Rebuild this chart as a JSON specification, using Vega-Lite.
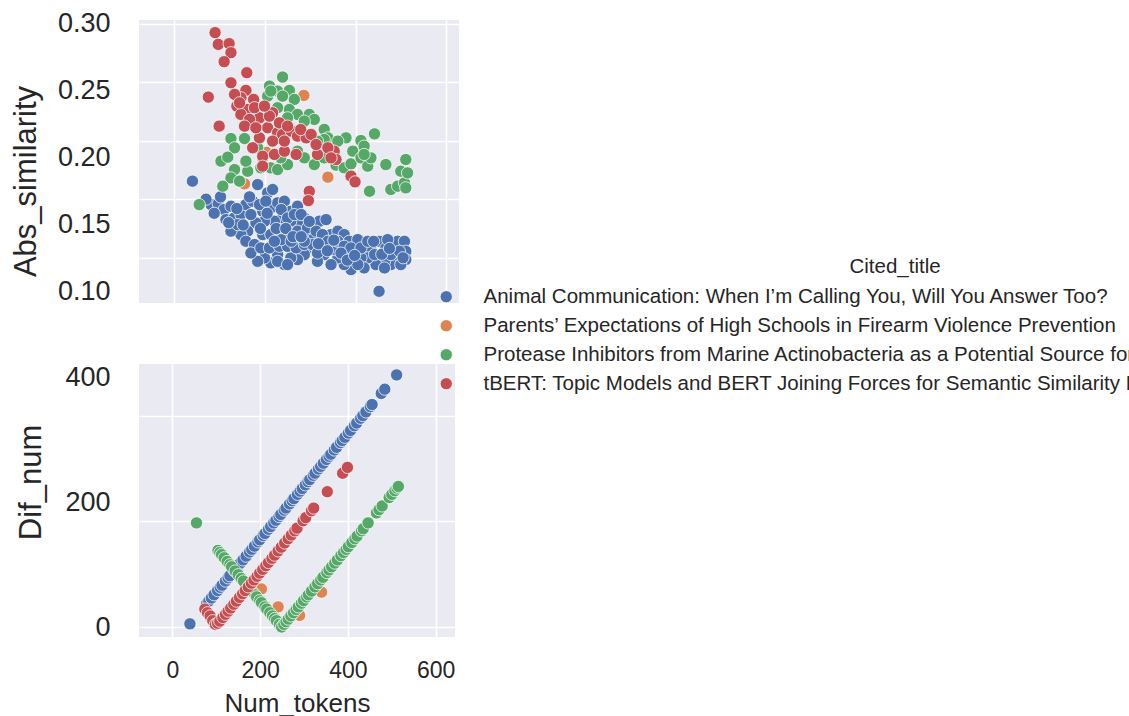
{
  "$schema": "https://vega.github.io/schema/vega-lite/v6.json",
  "padding": {"left": 10, "top": 9, "right": 0, "bottom": 0},
  "spacing": 58,
  "config": {
    "font": "Liberation Sans",
    "view": {"fill": "#EAEAF2", "stroke": null},
    "axis": {"domain": false, "ticks": false, "tickSize": 0, "gridColor": "#FFFFFF", "gridWidth": 1.6, "gridOpacity": 1, "labelColor": "#262626", "titleColor": "#262626", "titleFontWeight": "normal"},
    "legend": {"labelColor": "#262626", "titleColor": "#262626"}
  },
  "datasets": {
    "top": [
      {"Cited_title": "Parents’ Expectations of High Schools in Firearm Violence Prevention", "Num_tokens": 155, "Abs_similarity": 0.1631},
      {"Cited_title": "Parents’ Expectations of High Schools in Firearm Violence Prevention", "Num_tokens": 203, "Abs_similarity": 0.1900},
      {"Cited_title": "Parents’ Expectations of High Schools in Firearm Violence Prevention", "Num_tokens": 241, "Abs_similarity": 0.2050},
      {"Cited_title": "Parents’ Expectations of High Schools in Firearm Violence Prevention", "Num_tokens": 286, "Abs_similarity": 0.2386},
      {"Cited_title": "Parents’ Expectations of High Schools in Firearm Violence Prevention", "Num_tokens": 339, "Abs_similarity": 0.1688},
      {"Cited_title": "Animal Communication: When I’m Calling You, Will You Answer Too?", "Num_tokens": 40, "Abs_similarity": 0.1654},
      {"Cited_title": "Animal Communication: When I’m Calling You, Will You Answer Too?", "Num_tokens": 81, "Abs_similarity": 0.1454},
      {"Cited_title": "Animal Communication: When I’m Calling You, Will You Answer Too?", "Num_tokens": 97, "Abs_similarity": 0.1460},
      {"Cited_title": "Animal Communication: When I’m Calling You, Will You Answer Too?", "Num_tokens": 110, "Abs_similarity": 0.1412},
      {"Cited_title": "Animal Communication: When I’m Calling You, Will You Answer Too?", "Num_tokens": 125, "Abs_similarity": 0.1440},
      {"Cited_title": "Animal Communication: When I’m Calling You, Will You Answer Too?", "Num_tokens": 114, "Abs_similarity": 0.1326},
      {"Cited_title": "Animal Communication: When I’m Calling You, Will You Answer Too?", "Num_tokens": 132, "Abs_similarity": 0.1340},
      {"Cited_title": "Animal Communication: When I’m Calling You, Will You Answer Too?", "Num_tokens": 147, "Abs_similarity": 0.1369},
      {"Cited_title": "Animal Communication: When I’m Calling You, Will You Answer Too?", "Num_tokens": 158, "Abs_similarity": 0.1454},
      {"Cited_title": "Animal Communication: When I’m Calling You, Will You Answer Too?", "Num_tokens": 173, "Abs_similarity": 0.1483},
      {"Cited_title": "Animal Communication: When I’m Calling You, Will You Answer Too?", "Num_tokens": 184, "Abs_similarity": 0.1625},
      {"Cited_title": "Animal Communication: When I’m Calling You, Will You Answer Too?", "Num_tokens": 206, "Abs_similarity": 0.1554},
      {"Cited_title": "Animal Communication: When I’m Calling You, Will You Answer Too?", "Num_tokens": 217, "Abs_similarity": 0.1583},
      {"Cited_title": "Animal Communication: When I’m Calling You, Will You Answer Too?", "Num_tokens": 213, "Abs_similarity": 0.1426},
      {"Cited_title": "Animal Communication: When I’m Calling You, Will You Answer Too?", "Num_tokens": 195, "Abs_similarity": 0.1397},
      {"Cited_title": "Animal Communication: When I’m Calling You, Will You Answer Too?", "Num_tokens": 228, "Abs_similarity": 0.1469},
      {"Cited_title": "Animal Communication: When I’m Calling You, Will You Answer Too?", "Num_tokens": 243, "Abs_similarity": 0.1483},
      {"Cited_title": "Animal Communication: When I’m Calling You, Will You Answer Too?", "Num_tokens": 257, "Abs_similarity": 0.1397},
      {"Cited_title": "Animal Communication: When I’m Calling You, Will You Answer Too?", "Num_tokens": 272, "Abs_similarity": 0.1440},
      {"Cited_title": "Animal Communication: When I’m Calling You, Will You Answer Too?", "Num_tokens": 287, "Abs_similarity": 0.1340},
      {"Cited_title": "Animal Communication: When I’m Calling You, Will You Answer Too?", "Num_tokens": 276, "Abs_similarity": 0.1283},
      {"Cited_title": "Animal Communication: When I’m Calling You, Will You Answer Too?", "Num_tokens": 257, "Abs_similarity": 0.1312},
      {"Cited_title": "Animal Communication: When I’m Calling You, Will You Answer Too?", "Num_tokens": 239, "Abs_similarity": 0.1340},
      {"Cited_title": "Animal Communication: When I’m Calling You, Will You Answer Too?", "Num_tokens": 221, "Abs_similarity": 0.1312},
      {"Cited_title": "Animal Communication: When I’m Calling You, Will You Answer Too?", "Num_tokens": 199, "Abs_similarity": 0.1312},
      {"Cited_title": "Animal Communication: When I’m Calling You, Will You Answer Too?", "Num_tokens": 180, "Abs_similarity": 0.1298},
      {"Cited_title": "Animal Communication: When I’m Calling You, Will You Answer Too?", "Num_tokens": 162, "Abs_similarity": 0.1227},
      {"Cited_title": "Animal Communication: When I’m Calling You, Will You Answer Too?", "Num_tokens": 147, "Abs_similarity": 0.1198},
      {"Cited_title": "Animal Communication: When I’m Calling You, Will You Answer Too?", "Num_tokens": 158, "Abs_similarity": 0.1141},
      {"Cited_title": "Animal Communication: When I’m Calling You, Will You Answer Too?", "Num_tokens": 177, "Abs_similarity": 0.1113},
      {"Cited_title": "Animal Communication: When I’m Calling You, Will You Answer Too?", "Num_tokens": 195, "Abs_similarity": 0.1198},
      {"Cited_title": "Animal Communication: When I’m Calling You, Will You Answer Too?", "Num_tokens": 213, "Abs_similarity": 0.1198},
      {"Cited_title": "Animal Communication: When I’m Calling You, Will You Answer Too?", "Num_tokens": 232, "Abs_similarity": 0.1227},
      {"Cited_title": "Animal Communication: When I’m Calling You, Will You Answer Too?", "Num_tokens": 250, "Abs_similarity": 0.1198},
      {"Cited_title": "Animal Communication: When I’m Calling You, Will You Answer Too?", "Num_tokens": 272, "Abs_similarity": 0.1227},
      {"Cited_title": "Animal Communication: When I’m Calling You, Will You Answer Too?", "Num_tokens": 291, "Abs_similarity": 0.1198},
      {"Cited_title": "Animal Communication: When I’m Calling You, Will You Answer Too?", "Num_tokens": 309, "Abs_similarity": 0.1170},
      {"Cited_title": "Animal Communication: When I’m Calling You, Will You Answer Too?", "Num_tokens": 302, "Abs_similarity": 0.1255},
      {"Cited_title": "Animal Communication: When I’m Calling You, Will You Answer Too?", "Num_tokens": 320, "Abs_similarity": 0.1312},
      {"Cited_title": "Animal Communication: When I’m Calling You, Will You Answer Too?", "Num_tokens": 335, "Abs_similarity": 0.1326},
      {"Cited_title": "Animal Communication: When I’m Calling You, Will You Answer Too?", "Num_tokens": 346, "Abs_similarity": 0.1198},
      {"Cited_title": "Animal Communication: When I’m Calling You, Will You Answer Too?", "Num_tokens": 361, "Abs_similarity": 0.1227},
      {"Cited_title": "Animal Communication: When I’m Calling You, Will You Answer Too?", "Num_tokens": 375, "Abs_similarity": 0.1198},
      {"Cited_title": "Animal Communication: When I’m Calling You, Will You Answer Too?", "Num_tokens": 386, "Abs_similarity": 0.1141},
      {"Cited_title": "Animal Communication: When I’m Calling You, Will You Answer Too?", "Num_tokens": 405, "Abs_similarity": 0.1155},
      {"Cited_title": "Animal Communication: When I’m Calling You, Will You Answer Too?", "Num_tokens": 419, "Abs_similarity": 0.1084},
      {"Cited_title": "Animal Communication: When I’m Calling You, Will You Answer Too?", "Num_tokens": 434, "Abs_similarity": 0.1070},
      {"Cited_title": "Animal Communication: When I’m Calling You, Will You Answer Too?", "Num_tokens": 452, "Abs_similarity": 0.1141},
      {"Cited_title": "Animal Communication: When I’m Calling You, Will You Answer Too?", "Num_tokens": 467, "Abs_similarity": 0.1084},
      {"Cited_title": "Animal Communication: When I’m Calling You, Will You Answer Too?", "Num_tokens": 486, "Abs_similarity": 0.1084},
      {"Cited_title": "Animal Communication: When I’m Calling You, Will You Answer Too?", "Num_tokens": 493, "Abs_similarity": 0.1141},
      {"Cited_title": "Animal Communication: When I’m Calling You, Will You Answer Too?", "Num_tokens": 508, "Abs_similarity": 0.1141},
      {"Cited_title": "Animal Communication: When I’m Calling You, Will You Answer Too?", "Num_tokens": 511, "Abs_similarity": 0.1056},
      {"Cited_title": "Animal Communication: When I’m Calling You, Will You Answer Too?", "Num_tokens": 511, "Abs_similarity": 0.0984},
      {"Cited_title": "Animal Communication: When I’m Calling You, Will You Answer Too?", "Num_tokens": 493, "Abs_similarity": 0.0999},
      {"Cited_title": "Animal Communication: When I’m Calling You, Will You Answer Too?", "Num_tokens": 478, "Abs_similarity": 0.0942},
      {"Cited_title": "Animal Communication: When I’m Calling You, Will You Answer Too?", "Num_tokens": 464, "Abs_similarity": 0.0970},
      {"Cited_title": "Animal Communication: When I’m Calling You, Will You Answer Too?", "Num_tokens": 445, "Abs_similarity": 0.0942},
      {"Cited_title": "Animal Communication: When I’m Calling You, Will You Answer Too?", "Num_tokens": 427, "Abs_similarity": 0.0999},
      {"Cited_title": "Animal Communication: When I’m Calling You, Will You Answer Too?", "Num_tokens": 412, "Abs_similarity": 0.0999},
      {"Cited_title": "Animal Communication: When I’m Calling You, Will You Answer Too?", "Num_tokens": 390, "Abs_similarity": 0.0899},
      {"Cited_title": "Animal Communication: When I’m Calling You, Will You Answer Too?", "Num_tokens": 375, "Abs_similarity": 0.0942},
      {"Cited_title": "Animal Communication: When I’m Calling You, Will You Answer Too?", "Num_tokens": 361, "Abs_similarity": 0.0999},
      {"Cited_title": "Animal Communication: When I’m Calling You, Will You Answer Too?", "Num_tokens": 346, "Abs_similarity": 0.1098},
      {"Cited_title": "Animal Communication: When I’m Calling You, Will You Answer Too?", "Num_tokens": 331, "Abs_similarity": 0.1027},
      {"Cited_title": "Animal Communication: When I’m Calling You, Will You Answer Too?", "Num_tokens": 316, "Abs_similarity": 0.0970},
      {"Cited_title": "Animal Communication: When I’m Calling You, Will You Answer Too?", "Num_tokens": 302, "Abs_similarity": 0.1084},
      {"Cited_title": "Animal Communication: When I’m Calling You, Will You Answer Too?", "Num_tokens": 287, "Abs_similarity": 0.1027},
      {"Cited_title": "Animal Communication: When I’m Calling You, Will You Answer Too?", "Num_tokens": 272, "Abs_similarity": 0.0984},
      {"Cited_title": "Animal Communication: When I’m Calling You, Will You Answer Too?", "Num_tokens": 257, "Abs_similarity": 0.0999},
      {"Cited_title": "Animal Communication: When I’m Calling You, Will You Answer Too?", "Num_tokens": 243, "Abs_similarity": 0.0942},
      {"Cited_title": "Animal Communication: When I’m Calling You, Will You Answer Too?", "Num_tokens": 228, "Abs_similarity": 0.1027},
      {"Cited_title": "Animal Communication: When I’m Calling You, Will You Answer Too?", "Num_tokens": 213, "Abs_similarity": 0.0956},
      {"Cited_title": "Animal Communication: When I’m Calling You, Will You Answer Too?", "Num_tokens": 199, "Abs_similarity": 0.0999},
      {"Cited_title": "Animal Communication: When I’m Calling You, Will You Answer Too?", "Num_tokens": 184, "Abs_similarity": 0.0970},
      {"Cited_title": "Animal Communication: When I’m Calling You, Will You Answer Too?", "Num_tokens": 169, "Abs_similarity": 0.1041},
      {"Cited_title": "Animal Communication: When I’m Calling You, Will You Answer Too?", "Num_tokens": 191, "Abs_similarity": 0.1084},
      {"Cited_title": "Animal Communication: When I’m Calling You, Will You Answer Too?", "Num_tokens": 210, "Abs_similarity": 0.1084},
      {"Cited_title": "Animal Communication: When I’m Calling You, Will You Answer Too?", "Num_tokens": 232, "Abs_similarity": 0.1098},
      {"Cited_title": "Animal Communication: When I’m Calling You, Will You Answer Too?", "Num_tokens": 250, "Abs_similarity": 0.1098},
      {"Cited_title": "Animal Communication: When I’m Calling You, Will You Answer Too?", "Num_tokens": 269, "Abs_similarity": 0.1084},
      {"Cited_title": "Animal Communication: When I’m Calling You, Will You Answer Too?", "Num_tokens": 287, "Abs_similarity": 0.1113},
      {"Cited_title": "Animal Communication: When I’m Calling You, Will You Answer Too?", "Num_tokens": 305, "Abs_similarity": 0.1113},
      {"Cited_title": "Animal Communication: When I’m Calling You, Will You Answer Too?", "Num_tokens": 327, "Abs_similarity": 0.1113},
      {"Cited_title": "Animal Communication: When I’m Calling You, Will You Answer Too?", "Num_tokens": 353, "Abs_similarity": 0.1070},
      {"Cited_title": "Animal Communication: When I’m Calling You, Will You Answer Too?", "Num_tokens": 390, "Abs_similarity": 0.1027},
      {"Cited_title": "Animal Communication: When I’m Calling You, Will You Answer Too?", "Num_tokens": 419, "Abs_similarity": 0.0913},
      {"Cited_title": "Animal Communication: When I’m Calling You, Will You Answer Too?", "Num_tokens": 452, "Abs_similarity": 0.0714},
      {"Cited_title": "Animal Communication: When I’m Calling You, Will You Answer Too?", "Num_tokens": 464, "Abs_similarity": 0.0913},
      {"Cited_title": "Animal Communication: When I’m Calling You, Will You Answer Too?", "Num_tokens": 500, "Abs_similarity": 0.0942},
      {"Cited_title": "Animal Communication: When I’m Calling You, Will You Answer Too?", "Num_tokens": 125, "Abs_similarity": 0.1227},
      {"Cited_title": "Animal Communication: When I’m Calling You, Will You Answer Too?", "Num_tokens": 140, "Abs_similarity": 0.1283},
      {"Cited_title": "Animal Communication: When I’m Calling You, Will You Answer Too?", "Num_tokens": 169, "Abs_similarity": 0.1369},
      {"Cited_title": "Animal Communication: When I’m Calling You, Will You Answer Too?", "Num_tokens": 188, "Abs_similarity": 0.1454},
      {"Cited_title": "Animal Communication: When I’m Calling You, Will You Answer Too?", "Num_tokens": 202, "Abs_similarity": 0.1483},
      {"Cited_title": "Animal Communication: When I’m Calling You, Will You Answer Too?", "Num_tokens": 236, "Abs_similarity": 0.1412},
      {"Cited_title": "Animal Communication: When I’m Calling You, Will You Answer Too?", "Num_tokens": 250, "Abs_similarity": 0.1340},
      {"Cited_title": "Animal Communication: When I’m Calling You, Will You Answer Too?", "Num_tokens": 265, "Abs_similarity": 0.1369},
      {"Cited_title": "Animal Communication: When I’m Calling You, Will You Answer Too?", "Num_tokens": 280, "Abs_similarity": 0.1369},
      {"Cited_title": "Animal Communication: When I’m Calling You, Will You Answer Too?", "Num_tokens": 294, "Abs_similarity": 0.1255},
      {"Cited_title": "Animal Communication: When I’m Calling You, Will You Answer Too?", "Num_tokens": 313, "Abs_similarity": 0.1227},
      {"Cited_title": "Animal Communication: When I’m Calling You, Will You Answer Too?", "Num_tokens": 327, "Abs_similarity": 0.1198},
      {"Cited_title": "Animal Communication: When I’m Calling You, Will You Answer Too?", "Num_tokens": 339, "Abs_similarity": 0.1141},
      {"Cited_title": "Animal Communication: When I’m Calling You, Will You Answer Too?", "Num_tokens": 361, "Abs_similarity": 0.1141},
      {"Cited_title": "Animal Communication: When I’m Calling You, Will You Answer Too?", "Num_tokens": 375, "Abs_similarity": 0.1098},
      {"Cited_title": "Animal Communication: When I’m Calling You, Will You Answer Too?", "Num_tokens": 390, "Abs_similarity": 0.1084},
      {"Cited_title": "Animal Communication: When I’m Calling You, Will You Answer Too?", "Num_tokens": 412, "Abs_similarity": 0.1084},
      {"Cited_title": "Animal Communication: When I’m Calling You, Will You Answer Too?", "Num_tokens": 427, "Abs_similarity": 0.1141},
      {"Cited_title": "Animal Communication: When I’m Calling You, Will You Answer Too?", "Num_tokens": 442, "Abs_similarity": 0.1027},
      {"Cited_title": "Animal Communication: When I’m Calling You, Will You Answer Too?", "Num_tokens": 478, "Abs_similarity": 0.1027},
      {"Cited_title": "Animal Communication: When I’m Calling You, Will You Answer Too?", "Num_tokens": 497, "Abs_similarity": 0.1056},
      {"Cited_title": "Animal Communication: When I’m Calling You, Will You Answer Too?", "Num_tokens": 471, "Abs_similarity": 0.1155},
      {"Cited_title": "Animal Communication: When I’m Calling You, Will You Answer Too?", "Num_tokens": 236, "Abs_similarity": 0.1155},
      {"Cited_title": "Animal Communication: When I’m Calling You, Will You Answer Too?", "Num_tokens": 221, "Abs_similarity": 0.1141},
      {"Cited_title": "Animal Communication: When I’m Calling You, Will You Answer Too?", "Num_tokens": 258, "Abs_similarity": 0.1141},
      {"Cited_title": "Animal Communication: When I’m Calling You, Will You Answer Too?", "Num_tokens": 287, "Abs_similarity": 0.1141},
      {"Cited_title": "Animal Communication: When I’m Calling You, Will You Answer Too?", "Num_tokens": 316, "Abs_similarity": 0.1041},
      {"Cited_title": "Animal Communication: When I’m Calling You, Will You Answer Too?", "Num_tokens": 346, "Abs_similarity": 0.0942},
      {"Cited_title": "Animal Communication: When I’m Calling You, Will You Answer Too?", "Num_tokens": 405, "Abs_similarity": 0.0942},
      {"Cited_title": "Animal Communication: When I’m Calling You, Will You Answer Too?", "Num_tokens": 228, "Abs_similarity": 0.0970},
      {"Cited_title": "Animal Communication: When I’m Calling You, Will You Answer Too?", "Num_tokens": 250, "Abs_similarity": 0.0942},
      {"Cited_title": "Animal Communication: When I’m Calling You, Will You Answer Too?", "Num_tokens": 70, "Abs_similarity": 0.1500},
      {"Cited_title": "Animal Communication: When I’m Calling You, Will You Answer Too?", "Num_tokens": 88, "Abs_similarity": 0.1380},
      {"Cited_title": "Animal Communication: When I’m Calling You, Will You Answer Too?", "Num_tokens": 102, "Abs_similarity": 0.1520},
      {"Cited_title": "Animal Communication: When I’m Calling You, Will You Answer Too?", "Num_tokens": 120, "Abs_similarity": 0.1300},
      {"Cited_title": "Animal Communication: When I’m Calling You, Will You Answer Too?", "Num_tokens": 138, "Abs_similarity": 0.1420},
      {"Cited_title": "Animal Communication: When I’m Calling You, Will You Answer Too?", "Num_tokens": 152, "Abs_similarity": 0.1280},
      {"Cited_title": "Animal Communication: When I’m Calling You, Will You Answer Too?", "Num_tokens": 166, "Abs_similarity": 0.1520},
      {"Cited_title": "Animal Communication: When I’m Calling You, Will You Answer Too?", "Num_tokens": 190, "Abs_similarity": 0.1250},
      {"Cited_title": "Animal Communication: When I’m Calling You, Will You Answer Too?", "Num_tokens": 205, "Abs_similarity": 0.1380},
      {"Cited_title": "Animal Communication: When I’m Calling You, Will You Answer Too?", "Num_tokens": 225, "Abs_similarity": 0.1250},
      {"Cited_title": "Animal Communication: When I’m Calling You, Will You Answer Too?", "Num_tokens": 246, "Abs_similarity": 0.1250},
      {"Cited_title": "Animal Communication: When I’m Calling You, Will You Answer Too?", "Num_tokens": 262, "Abs_similarity": 0.1180},
      {"Cited_title": "Animal Communication: When I’m Calling You, Will You Answer Too?", "Num_tokens": 280, "Abs_similarity": 0.1180},
      {"Cited_title": "Animal Communication: When I’m Calling You, Will You Answer Too?", "Num_tokens": 298, "Abs_similarity": 0.1310},
      {"Cited_title": "Animal Communication: When I’m Calling You, Will You Answer Too?", "Num_tokens": 318, "Abs_similarity": 0.1120},
      {"Cited_title": "Animal Communication: When I’m Calling You, Will You Answer Too?", "Num_tokens": 338, "Abs_similarity": 0.1060},
      {"Cited_title": "Animal Communication: When I’m Calling You, Will You Answer Too?", "Num_tokens": 352, "Abs_similarity": 0.1150},
      {"Cited_title": "Animal Communication: When I’m Calling You, Will You Answer Too?", "Num_tokens": 368, "Abs_similarity": 0.1040},
      {"Cited_title": "Animal Communication: When I’m Calling You, Will You Answer Too?", "Num_tokens": 382, "Abs_similarity": 0.0980},
      {"Cited_title": "Animal Communication: When I’m Calling You, Will You Answer Too?", "Num_tokens": 398, "Abs_similarity": 0.1020},
      {"Cited_title": "Animal Communication: When I’m Calling You, Will You Answer Too?", "Num_tokens": 440, "Abs_similarity": 0.1140},
      {"Cited_title": "Animal Communication: When I’m Calling You, Will You Answer Too?", "Num_tokens": 458, "Abs_similarity": 0.1030},
      {"Cited_title": "Animal Communication: When I’m Calling You, Will You Answer Too?", "Num_tokens": 475, "Abs_similarity": 0.1080},
      {"Cited_title": "Animal Communication: When I’m Calling You, Will You Answer Too?", "Num_tokens": 505, "Abs_similarity": 0.1000},
      {"Cited_title": "Protease Inhibitors from Marine Actinobacteria as a Potential Source for Antimalarial Compound", "Num_tokens": 239, "Abs_similarity": 0.2543},
      {"Cited_title": "Protease Inhibitors from Marine Actinobacteria as a Potential Source for Antimalarial Compound", "Num_tokens": 210, "Abs_similarity": 0.2466},
      {"Cited_title": "Protease Inhibitors from Marine Actinobacteria as a Potential Source for Antimalarial Compound", "Num_tokens": 228, "Abs_similarity": 0.2423},
      {"Cited_title": "Protease Inhibitors from Marine Actinobacteria as a Potential Source for Antimalarial Compound", "Num_tokens": 254, "Abs_similarity": 0.2429},
      {"Cited_title": "Protease Inhibitors from Marine Actinobacteria as a Potential Source for Antimalarial Compound", "Num_tokens": 206, "Abs_similarity": 0.2380},
      {"Cited_title": "Protease Inhibitors from Marine Actinobacteria as a Potential Source for Antimalarial Compound", "Num_tokens": 239, "Abs_similarity": 0.2380},
      {"Cited_title": "Protease Inhibitors from Marine Actinobacteria as a Potential Source for Antimalarial Compound", "Num_tokens": 265, "Abs_similarity": 0.2352},
      {"Cited_title": "Protease Inhibitors from Marine Actinobacteria as a Potential Source for Antimalarial Compound", "Num_tokens": 254, "Abs_similarity": 0.2266},
      {"Cited_title": "Protease Inhibitors from Marine Actinobacteria as a Potential Source for Antimalarial Compound", "Num_tokens": 228, "Abs_similarity": 0.2281},
      {"Cited_title": "Protease Inhibitors from Marine Actinobacteria as a Potential Source for Antimalarial Compound", "Num_tokens": 272, "Abs_similarity": 0.2224},
      {"Cited_title": "Protease Inhibitors from Marine Actinobacteria as a Potential Source for Antimalarial Compound", "Num_tokens": 298, "Abs_similarity": 0.2224},
      {"Cited_title": "Protease Inhibitors from Marine Actinobacteria as a Potential Source for Antimalarial Compound", "Num_tokens": 309, "Abs_similarity": 0.2181},
      {"Cited_title": "Protease Inhibitors from Marine Actinobacteria as a Potential Source for Antimalarial Compound", "Num_tokens": 331, "Abs_similarity": 0.2096},
      {"Cited_title": "Protease Inhibitors from Marine Actinobacteria as a Potential Source for Antimalarial Compound", "Num_tokens": 339, "Abs_similarity": 0.2024},
      {"Cited_title": "Protease Inhibitors from Marine Actinobacteria as a Potential Source for Antimalarial Compound", "Num_tokens": 379, "Abs_similarity": 0.2024},
      {"Cited_title": "Protease Inhibitors from Marine Actinobacteria as a Potential Source for Antimalarial Compound", "Num_tokens": 412, "Abs_similarity": 0.2001},
      {"Cited_title": "Protease Inhibitors from Marine Actinobacteria as a Potential Source for Antimalarial Compound", "Num_tokens": 442, "Abs_similarity": 0.2058},
      {"Cited_title": "Protease Inhibitors from Marine Actinobacteria as a Potential Source for Antimalarial Compound", "Num_tokens": 419, "Abs_similarity": 0.1953},
      {"Cited_title": "Protease Inhibitors from Marine Actinobacteria as a Potential Source for Antimalarial Compound", "Num_tokens": 394, "Abs_similarity": 0.1910},
      {"Cited_title": "Protease Inhibitors from Marine Actinobacteria as a Potential Source for Antimalarial Compound", "Num_tokens": 103, "Abs_similarity": 0.1825},
      {"Cited_title": "Protease Inhibitors from Marine Actinobacteria as a Potential Source for Antimalarial Compound", "Num_tokens": 125, "Abs_similarity": 0.2018},
      {"Cited_title": "Protease Inhibitors from Marine Actinobacteria as a Potential Source for Antimalarial Compound", "Num_tokens": 155, "Abs_similarity": 0.2018},
      {"Cited_title": "Protease Inhibitors from Marine Actinobacteria as a Potential Source for Antimalarial Compound", "Num_tokens": 133, "Abs_similarity": 0.1939},
      {"Cited_title": "Protease Inhibitors from Marine Actinobacteria as a Potential Source for Antimalarial Compound", "Num_tokens": 118, "Abs_similarity": 0.1859},
      {"Cited_title": "Protease Inhibitors from Marine Actinobacteria as a Potential Source for Antimalarial Compound", "Num_tokens": 133, "Abs_similarity": 0.1753},
      {"Cited_title": "Protease Inhibitors from Marine Actinobacteria as a Potential Source for Antimalarial Compound", "Num_tokens": 125, "Abs_similarity": 0.1682},
      {"Cited_title": "Protease Inhibitors from Marine Actinobacteria as a Potential Source for Antimalarial Compound", "Num_tokens": 107, "Abs_similarity": 0.1611},
      {"Cited_title": "Protease Inhibitors from Marine Actinobacteria as a Potential Source for Antimalarial Compound", "Num_tokens": 144, "Abs_similarity": 0.1654},
      {"Cited_title": "Protease Inhibitors from Marine Actinobacteria as a Potential Source for Antimalarial Compound", "Num_tokens": 162, "Abs_similarity": 0.1739},
      {"Cited_title": "Protease Inhibitors from Marine Actinobacteria as a Potential Source for Antimalarial Compound", "Num_tokens": 158, "Abs_similarity": 0.1825},
      {"Cited_title": "Protease Inhibitors from Marine Actinobacteria as a Potential Source for Antimalarial Compound", "Num_tokens": 195, "Abs_similarity": 0.1853},
      {"Cited_title": "Protease Inhibitors from Marine Actinobacteria as a Potential Source for Antimalarial Compound", "Num_tokens": 213, "Abs_similarity": 0.1768},
      {"Cited_title": "Protease Inhibitors from Marine Actinobacteria as a Potential Source for Antimalarial Compound", "Num_tokens": 228, "Abs_similarity": 0.1753},
      {"Cited_title": "Protease Inhibitors from Marine Actinobacteria as a Potential Source for Antimalarial Compound", "Num_tokens": 250, "Abs_similarity": 0.1796},
      {"Cited_title": "Protease Inhibitors from Marine Actinobacteria as a Potential Source for Antimalarial Compound", "Num_tokens": 272, "Abs_similarity": 0.1910},
      {"Cited_title": "Protease Inhibitors from Marine Actinobacteria as a Potential Source for Antimalarial Compound", "Num_tokens": 287, "Abs_similarity": 0.1853},
      {"Cited_title": "Protease Inhibitors from Marine Actinobacteria as a Potential Source for Antimalarial Compound", "Num_tokens": 309, "Abs_similarity": 0.1796},
      {"Cited_title": "Protease Inhibitors from Marine Actinobacteria as a Potential Source for Antimalarial Compound", "Num_tokens": 331, "Abs_similarity": 0.1853},
      {"Cited_title": "Protease Inhibitors from Marine Actinobacteria as a Potential Source for Antimalarial Compound", "Num_tokens": 357, "Abs_similarity": 0.1791},
      {"Cited_title": "Protease Inhibitors from Marine Actinobacteria as a Potential Source for Antimalarial Compound", "Num_tokens": 375, "Abs_similarity": 0.1768},
      {"Cited_title": "Protease Inhibitors from Marine Actinobacteria as a Potential Source for Antimalarial Compound", "Num_tokens": 390, "Abs_similarity": 0.1802},
      {"Cited_title": "Protease Inhibitors from Marine Actinobacteria as a Potential Source for Antimalarial Compound", "Num_tokens": 412, "Abs_similarity": 0.1853},
      {"Cited_title": "Protease Inhibitors from Marine Actinobacteria as a Potential Source for Antimalarial Compound", "Num_tokens": 427, "Abs_similarity": 0.1782},
      {"Cited_title": "Protease Inhibitors from Marine Actinobacteria as a Potential Source for Antimalarial Compound", "Num_tokens": 434, "Abs_similarity": 0.1853},
      {"Cited_title": "Protease Inhibitors from Marine Actinobacteria as a Potential Source for Antimalarial Compound", "Num_tokens": 431, "Abs_similarity": 0.1568},
      {"Cited_title": "Protease Inhibitors from Marine Actinobacteria as a Potential Source for Antimalarial Compound", "Num_tokens": 467, "Abs_similarity": 0.1796},
      {"Cited_title": "Protease Inhibitors from Marine Actinobacteria as a Potential Source for Antimalarial Compound", "Num_tokens": 478, "Abs_similarity": 0.1583},
      {"Cited_title": "Protease Inhibitors from Marine Actinobacteria as a Potential Source for Antimalarial Compound", "Num_tokens": 493, "Abs_similarity": 0.1611},
      {"Cited_title": "Protease Inhibitors from Marine Actinobacteria as a Potential Source for Antimalarial Compound", "Num_tokens": 508, "Abs_similarity": 0.1640},
      {"Cited_title": "Protease Inhibitors from Marine Actinobacteria as a Potential Source for Antimalarial Compound", "Num_tokens": 511, "Abs_similarity": 0.1597},
      {"Cited_title": "Protease Inhibitors from Marine Actinobacteria as a Potential Source for Antimalarial Compound", "Num_tokens": 500, "Abs_similarity": 0.1739},
      {"Cited_title": "Protease Inhibitors from Marine Actinobacteria as a Potential Source for Antimalarial Compound", "Num_tokens": 511, "Abs_similarity": 0.1839},
      {"Cited_title": "Protease Inhibitors from Marine Actinobacteria as a Potential Source for Antimalarial Compound", "Num_tokens": 515, "Abs_similarity": 0.1725},
      {"Cited_title": "Protease Inhibitors from Marine Actinobacteria as a Potential Source for Antimalarial Compound", "Num_tokens": 55, "Abs_similarity": 0.1454},
      {"Cited_title": "Protease Inhibitors from Marine Actinobacteria as a Potential Source for Antimalarial Compound", "Num_tokens": 213, "Abs_similarity": 0.2423},
      {"Cited_title": "Protease Inhibitors from Marine Actinobacteria as a Potential Source for Antimalarial Compound", "Num_tokens": 250, "Abs_similarity": 0.2195},
      {"Cited_title": "Protease Inhibitors from Marine Actinobacteria as a Potential Source for Antimalarial Compound", "Num_tokens": 287, "Abs_similarity": 0.2167},
      {"Cited_title": "Protease Inhibitors from Marine Actinobacteria as a Potential Source for Antimalarial Compound", "Num_tokens": 331, "Abs_similarity": 0.2010},
      {"Cited_title": "Protease Inhibitors from Marine Actinobacteria as a Potential Source for Antimalarial Compound", "Num_tokens": 361, "Abs_similarity": 0.1996},
      {"Cited_title": "Protease Inhibitors from Marine Actinobacteria as a Potential Source for Antimalarial Compound", "Num_tokens": 419, "Abs_similarity": 0.1882},
      {"Cited_title": "Protease Inhibitors from Marine Actinobacteria as a Potential Source for Antimalarial Compound", "Num_tokens": 184, "Abs_similarity": 0.1939},
      {"Cited_title": "Protease Inhibitors from Marine Actinobacteria as a Potential Source for Antimalarial Compound", "Num_tokens": 191, "Abs_similarity": 0.1768},
      {"Cited_title": "Protease Inhibitors from Marine Actinobacteria as a Potential Source for Antimalarial Compound", "Num_tokens": 235, "Abs_similarity": 0.1853},
      {"Cited_title": "Protease Inhibitors from Marine Actinobacteria as a Potential Source for Antimalarial Compound", "Num_tokens": 316, "Abs_similarity": 0.1996},
      {"Cited_title": "tBERT: Topic Models and BERT Joining Forces for Semantic Similarity Detection", "Num_tokens": 90, "Abs_similarity": 0.2922},
      {"Cited_title": "tBERT: Topic Models and BERT Joining Forces for Semantic Similarity Detection", "Num_tokens": 97, "Abs_similarity": 0.2822},
      {"Cited_title": "tBERT: Topic Models and BERT Joining Forces for Semantic Similarity Detection", "Num_tokens": 121, "Abs_similarity": 0.2828},
      {"Cited_title": "tBERT: Topic Models and BERT Joining Forces for Semantic Similarity Detection", "Num_tokens": 125, "Abs_similarity": 0.2751},
      {"Cited_title": "tBERT: Topic Models and BERT Joining Forces for Semantic Similarity Detection", "Num_tokens": 110, "Abs_similarity": 0.2674},
      {"Cited_title": "tBERT: Topic Models and BERT Joining Forces for Semantic Similarity Detection", "Num_tokens": 160, "Abs_similarity": 0.2580},
      {"Cited_title": "tBERT: Topic Models and BERT Joining Forces for Semantic Similarity Detection", "Num_tokens": 125, "Abs_similarity": 0.2494},
      {"Cited_title": "tBERT: Topic Models and BERT Joining Forces for Semantic Similarity Detection", "Num_tokens": 75, "Abs_similarity": 0.2372},
      {"Cited_title": "tBERT: Topic Models and BERT Joining Forces for Semantic Similarity Detection", "Num_tokens": 99, "Abs_similarity": 0.2124},
      {"Cited_title": "tBERT: Topic Models and BERT Joining Forces for Semantic Similarity Detection", "Num_tokens": 158, "Abs_similarity": 0.2429},
      {"Cited_title": "tBERT: Topic Models and BERT Joining Forces for Semantic Similarity Detection", "Num_tokens": 147, "Abs_similarity": 0.2366},
      {"Cited_title": "tBERT: Topic Models and BERT Joining Forces for Semantic Similarity Detection", "Num_tokens": 175, "Abs_similarity": 0.2352},
      {"Cited_title": "tBERT: Topic Models and BERT Joining Forces for Semantic Similarity Detection", "Num_tokens": 138, "Abs_similarity": 0.2295},
      {"Cited_title": "tBERT: Topic Models and BERT Joining Forces for Semantic Similarity Detection", "Num_tokens": 162, "Abs_similarity": 0.2266},
      {"Cited_title": "tBERT: Topic Models and BERT Joining Forces for Semantic Similarity Detection", "Num_tokens": 188, "Abs_similarity": 0.2195},
      {"Cited_title": "tBERT: Topic Models and BERT Joining Forces for Semantic Similarity Detection", "Num_tokens": 217, "Abs_similarity": 0.2238},
      {"Cited_title": "tBERT: Topic Models and BERT Joining Forces for Semantic Similarity Detection", "Num_tokens": 206, "Abs_similarity": 0.2110},
      {"Cited_title": "tBERT: Topic Models and BERT Joining Forces for Semantic Similarity Detection", "Num_tokens": 228, "Abs_similarity": 0.2067},
      {"Cited_title": "tBERT: Topic Models and BERT Joining Forces for Semantic Similarity Detection", "Num_tokens": 239, "Abs_similarity": 0.2053},
      {"Cited_title": "tBERT: Topic Models and BERT Joining Forces for Semantic Similarity Detection", "Num_tokens": 258, "Abs_similarity": 0.2081},
      {"Cited_title": "tBERT: Topic Models and BERT Joining Forces for Semantic Similarity Detection", "Num_tokens": 272, "Abs_similarity": 0.2038},
      {"Cited_title": "tBERT: Topic Models and BERT Joining Forces for Semantic Similarity Detection", "Num_tokens": 291, "Abs_similarity": 0.2024},
      {"Cited_title": "tBERT: Topic Models and BERT Joining Forces for Semantic Similarity Detection", "Num_tokens": 188, "Abs_similarity": 0.2024},
      {"Cited_title": "tBERT: Topic Models and BERT Joining Forces for Semantic Similarity Detection", "Num_tokens": 173, "Abs_similarity": 0.1939},
      {"Cited_title": "tBERT: Topic Models and BERT Joining Forces for Semantic Similarity Detection", "Num_tokens": 195, "Abs_similarity": 0.1867},
      {"Cited_title": "tBERT: Topic Models and BERT Joining Forces for Semantic Similarity Detection", "Num_tokens": 195, "Abs_similarity": 0.1782},
      {"Cited_title": "tBERT: Topic Models and BERT Joining Forces for Semantic Similarity Detection", "Num_tokens": 221, "Abs_similarity": 0.1882},
      {"Cited_title": "tBERT: Topic Models and BERT Joining Forces for Semantic Similarity Detection", "Num_tokens": 243, "Abs_similarity": 0.1910},
      {"Cited_title": "tBERT: Topic Models and BERT Joining Forces for Semantic Similarity Detection", "Num_tokens": 269, "Abs_similarity": 0.1882},
      {"Cited_title": "tBERT: Topic Models and BERT Joining Forces for Semantic Similarity Detection", "Num_tokens": 316, "Abs_similarity": 0.1882},
      {"Cited_title": "tBERT: Topic Models and BERT Joining Forces for Semantic Similarity Detection", "Num_tokens": 353, "Abs_similarity": 0.1910},
      {"Cited_title": "tBERT: Topic Models and BERT Joining Forces for Semantic Similarity Detection", "Num_tokens": 357, "Abs_similarity": 0.1839},
      {"Cited_title": "tBERT: Topic Models and BERT Joining Forces for Semantic Similarity Detection", "Num_tokens": 390, "Abs_similarity": 0.1697},
      {"Cited_title": "tBERT: Topic Models and BERT Joining Forces for Semantic Similarity Detection", "Num_tokens": 399, "Abs_similarity": 0.1648},
      {"Cited_title": "tBERT: Topic Models and BERT Joining Forces for Semantic Similarity Detection", "Num_tokens": 298, "Abs_similarity": 0.1568},
      {"Cited_title": "tBERT: Topic Models and BERT Joining Forces for Semantic Similarity Detection", "Num_tokens": 296, "Abs_similarity": 0.1488},
      {"Cited_title": "tBERT: Topic Models and BERT Joining Forces for Semantic Similarity Detection", "Num_tokens": 147, "Abs_similarity": 0.2224},
      {"Cited_title": "tBERT: Topic Models and BERT Joining Forces for Semantic Similarity Detection", "Num_tokens": 166, "Abs_similarity": 0.2181},
      {"Cited_title": "tBERT: Topic Models and BERT Joining Forces for Semantic Similarity Detection", "Num_tokens": 155, "Abs_similarity": 0.2124},
      {"Cited_title": "tBERT: Topic Models and BERT Joining Forces for Semantic Similarity Detection", "Num_tokens": 180, "Abs_similarity": 0.2110},
      {"Cited_title": "tBERT: Topic Models and BERT Joining Forces for Semantic Similarity Detection", "Num_tokens": 210, "Abs_similarity": 0.2209},
      {"Cited_title": "tBERT: Topic Models and BERT Joining Forces for Semantic Similarity Detection", "Num_tokens": 232, "Abs_similarity": 0.2152},
      {"Cited_title": "tBERT: Topic Models and BERT Joining Forces for Semantic Similarity Detection", "Num_tokens": 250, "Abs_similarity": 0.2124},
      {"Cited_title": "tBERT: Topic Models and BERT Joining Forces for Semantic Similarity Detection", "Num_tokens": 279, "Abs_similarity": 0.2095},
      {"Cited_title": "tBERT: Topic Models and BERT Joining Forces for Semantic Similarity Detection", "Num_tokens": 302, "Abs_similarity": 0.2053},
      {"Cited_title": "tBERT: Topic Models and BERT Joining Forces for Semantic Similarity Detection", "Num_tokens": 313, "Abs_similarity": 0.1967},
      {"Cited_title": "tBERT: Topic Models and BERT Joining Forces for Semantic Similarity Detection", "Num_tokens": 339, "Abs_similarity": 0.1939},
      {"Cited_title": "tBERT: Topic Models and BERT Joining Forces for Semantic Similarity Detection", "Num_tokens": 346, "Abs_similarity": 0.1853},
      {"Cited_title": "tBERT: Topic Models and BERT Joining Forces for Semantic Similarity Detection", "Num_tokens": 217, "Abs_similarity": 0.1996},
      {"Cited_title": "tBERT: Topic Models and BERT Joining Forces for Semantic Similarity Detection", "Num_tokens": 243, "Abs_similarity": 0.1996},
      {"Cited_title": "tBERT: Topic Models and BERT Joining Forces for Semantic Similarity Detection", "Num_tokens": 133, "Abs_similarity": 0.2395},
      {"Cited_title": "tBERT: Topic Models and BERT Joining Forces for Semantic Similarity Detection", "Num_tokens": 144, "Abs_similarity": 0.2323},
      {"Cited_title": "tBERT: Topic Models and BERT Joining Forces for Semantic Similarity Detection", "Num_tokens": 177, "Abs_similarity": 0.2281},
      {"Cited_title": "tBERT: Topic Models and BERT Joining Forces for Semantic Similarity Detection", "Num_tokens": 199, "Abs_similarity": 0.2295}
    ],
    "bottom": [
      {"Cited_title": "Parents’ Expectations of High Schools in Firearm Violence Prevention", "Num_tokens": 157, "Dif_num": 123},
      {"Cited_title": "Parents’ Expectations of High Schools in Firearm Violence Prevention", "Num_tokens": 203, "Dif_num": 72},
      {"Cited_title": "Parents’ Expectations of High Schools in Firearm Violence Prevention", "Num_tokens": 241, "Dif_num": 38},
      {"Cited_title": "Parents’ Expectations of High Schools in Firearm Violence Prevention", "Num_tokens": 290, "Dif_num": 22},
      {"Cited_title": "Parents’ Expectations of High Schools in Firearm Violence Prevention", "Num_tokens": 340, "Dif_num": 66},
      {"Cited_title": "Animal Communication: When I’m Calling You, Will You Answer Too?", "Num_tokens": 40, "Dif_num": 6},
      {"Cited_title": "Animal Communication: When I’m Calling You, Will You Answer Too?", "Num_tokens": 78, "Dif_num": 44},
      {"Cited_title": "Animal Communication: When I’m Calling You, Will You Answer Too?", "Num_tokens": 83, "Dif_num": 49},
      {"Cited_title": "Animal Communication: When I’m Calling You, Will You Answer Too?", "Num_tokens": 89, "Dif_num": 55},
      {"Cited_title": "Animal Communication: When I’m Calling You, Will You Answer Too?", "Num_tokens": 95, "Dif_num": 61},
      {"Cited_title": "Animal Communication: When I’m Calling You, Will You Answer Too?", "Num_tokens": 103, "Dif_num": 69},
      {"Cited_title": "Animal Communication: When I’m Calling You, Will You Answer Too?", "Num_tokens": 109, "Dif_num": 75},
      {"Cited_title": "Animal Communication: When I’m Calling You, Will You Answer Too?", "Num_tokens": 113, "Dif_num": 79},
      {"Cited_title": "Animal Communication: When I’m Calling You, Will You Answer Too?", "Num_tokens": 121, "Dif_num": 87},
      {"Cited_title": "Animal Communication: When I’m Calling You, Will You Answer Too?", "Num_tokens": 127, "Dif_num": 93},
      {"Cited_title": "Animal Communication: When I’m Calling You, Will You Answer Too?", "Num_tokens": 131, "Dif_num": 97},
      {"Cited_title": "Animal Communication: When I’m Calling You, Will You Answer Too?", "Num_tokens": 141, "Dif_num": 107},
      {"Cited_title": "Animal Communication: When I’m Calling You, Will You Answer Too?", "Num_tokens": 149, "Dif_num": 115},
      {"Cited_title": "Animal Communication: When I’m Calling You, Will You Answer Too?", "Num_tokens": 155, "Dif_num": 121},
      {"Cited_title": "Animal Communication: When I’m Calling You, Will You Answer Too?", "Num_tokens": 161, "Dif_num": 127},
      {"Cited_title": "Animal Communication: When I’m Calling You, Will You Answer Too?", "Num_tokens": 168, "Dif_num": 134},
      {"Cited_title": "Animal Communication: When I’m Calling You, Will You Answer Too?", "Num_tokens": 176, "Dif_num": 142},
      {"Cited_title": "Animal Communication: When I’m Calling You, Will You Answer Too?", "Num_tokens": 181, "Dif_num": 147},
      {"Cited_title": "Animal Communication: When I’m Calling You, Will You Answer Too?", "Num_tokens": 187, "Dif_num": 153},
      {"Cited_title": "Animal Communication: When I’m Calling You, Will You Answer Too?", "Num_tokens": 195, "Dif_num": 161},
      {"Cited_title": "Animal Communication: When I’m Calling You, Will You Answer Too?", "Num_tokens": 199, "Dif_num": 165},
      {"Cited_title": "Animal Communication: When I’m Calling You, Will You Answer Too?", "Num_tokens": 207, "Dif_num": 173},
      {"Cited_title": "Animal Communication: When I’m Calling You, Will You Answer Too?", "Num_tokens": 211, "Dif_num": 177},
      {"Cited_title": "Animal Communication: When I’m Calling You, Will You Answer Too?", "Num_tokens": 219, "Dif_num": 185},
      {"Cited_title": "Animal Communication: When I’m Calling You, Will You Answer Too?", "Num_tokens": 224, "Dif_num": 190},
      {"Cited_title": "Animal Communication: When I’m Calling You, Will You Answer Too?", "Num_tokens": 231, "Dif_num": 197},
      {"Cited_title": "Animal Communication: When I’m Calling You, Will You Answer Too?", "Num_tokens": 236, "Dif_num": 202},
      {"Cited_title": "Animal Communication: When I’m Calling You, Will You Answer Too?", "Num_tokens": 243, "Dif_num": 209},
      {"Cited_title": "Animal Communication: When I’m Calling You, Will You Answer Too?", "Num_tokens": 247, "Dif_num": 213},
      {"Cited_title": "Animal Communication: When I’m Calling You, Will You Answer Too?", "Num_tokens": 255, "Dif_num": 221},
      {"Cited_title": "Animal Communication: When I’m Calling You, Will You Answer Too?", "Num_tokens": 259, "Dif_num": 225},
      {"Cited_title": "Animal Communication: When I’m Calling You, Will You Answer Too?", "Num_tokens": 267, "Dif_num": 233},
      {"Cited_title": "Animal Communication: When I’m Calling You, Will You Answer Too?", "Num_tokens": 273, "Dif_num": 239},
      {"Cited_title": "Animal Communication: When I’m Calling You, Will You Answer Too?", "Num_tokens": 277, "Dif_num": 243},
      {"Cited_title": "Animal Communication: When I’m Calling You, Will You Answer Too?", "Num_tokens": 285, "Dif_num": 251},
      {"Cited_title": "Animal Communication: When I’m Calling You, Will You Answer Too?", "Num_tokens": 291, "Dif_num": 257},
      {"Cited_title": "Animal Communication: When I’m Calling You, Will You Answer Too?", "Num_tokens": 296, "Dif_num": 262},
      {"Cited_title": "Animal Communication: When I’m Calling You, Will You Answer Too?", "Num_tokens": 303, "Dif_num": 269},
      {"Cited_title": "Animal Communication: When I’m Calling You, Will You Answer Too?", "Num_tokens": 309, "Dif_num": 275},
      {"Cited_title": "Animal Communication: When I’m Calling You, Will You Answer Too?", "Num_tokens": 313, "Dif_num": 279},
      {"Cited_title": "Animal Communication: When I’m Calling You, Will You Answer Too?", "Num_tokens": 321, "Dif_num": 287},
      {"Cited_title": "Animal Communication: When I’m Calling You, Will You Answer Too?", "Num_tokens": 325, "Dif_num": 291},
      {"Cited_title": "Animal Communication: When I’m Calling You, Will You Answer Too?", "Num_tokens": 333, "Dif_num": 299},
      {"Cited_title": "Animal Communication: When I’m Calling You, Will You Answer Too?", "Num_tokens": 338, "Dif_num": 304},
      {"Cited_title": "Animal Communication: When I’m Calling You, Will You Answer Too?", "Num_tokens": 344, "Dif_num": 310},
      {"Cited_title": "Animal Communication: When I’m Calling You, Will You Answer Too?", "Num_tokens": 351, "Dif_num": 317},
      {"Cited_title": "Animal Communication: When I’m Calling You, Will You Answer Too?", "Num_tokens": 357, "Dif_num": 323},
      {"Cited_title": "Animal Communication: When I’m Calling You, Will You Answer Too?", "Num_tokens": 361, "Dif_num": 327},
      {"Cited_title": "Animal Communication: When I’m Calling You, Will You Answer Too?", "Num_tokens": 369, "Dif_num": 335},
      {"Cited_title": "Animal Communication: When I’m Calling You, Will You Answer Too?", "Num_tokens": 374, "Dif_num": 340},
      {"Cited_title": "Animal Communication: When I’m Calling You, Will You Answer Too?", "Num_tokens": 383, "Dif_num": 349},
      {"Cited_title": "Animal Communication: When I’m Calling You, Will You Answer Too?", "Num_tokens": 387, "Dif_num": 353},
      {"Cited_title": "Animal Communication: When I’m Calling You, Will You Answer Too?", "Num_tokens": 393, "Dif_num": 359},
      {"Cited_title": "Animal Communication: When I’m Calling You, Will You Answer Too?", "Num_tokens": 401, "Dif_num": 367},
      {"Cited_title": "Animal Communication: When I’m Calling You, Will You Answer Too?", "Num_tokens": 406, "Dif_num": 372},
      {"Cited_title": "Animal Communication: When I’m Calling You, Will You Answer Too?", "Num_tokens": 415, "Dif_num": 381},
      {"Cited_title": "Animal Communication: When I’m Calling You, Will You Answer Too?", "Num_tokens": 420, "Dif_num": 386},
      {"Cited_title": "Animal Communication: When I’m Calling You, Will You Answer Too?", "Num_tokens": 429, "Dif_num": 395},
      {"Cited_title": "Animal Communication: When I’m Calling You, Will You Answer Too?", "Num_tokens": 434, "Dif_num": 400},
      {"Cited_title": "Animal Communication: When I’m Calling You, Will You Answer Too?", "Num_tokens": 441, "Dif_num": 407},
      {"Cited_title": "Animal Communication: When I’m Calling You, Will You Answer Too?", "Num_tokens": 451, "Dif_num": 417},
      {"Cited_title": "Animal Communication: When I’m Calling You, Will You Answer Too?", "Num_tokens": 455, "Dif_num": 421},
      {"Cited_title": "Animal Communication: When I’m Calling You, Will You Answer Too?", "Num_tokens": 476, "Dif_num": 442},
      {"Cited_title": "Animal Communication: When I’m Calling You, Will You Answer Too?", "Num_tokens": 484, "Dif_num": 450},
      {"Cited_title": "Animal Communication: When I’m Calling You, Will You Answer Too?", "Num_tokens": 511, "Dif_num": 477},
      {"Cited_title": "Protease Inhibitors from Marine Actinobacteria as a Potential Source for Antimalarial Compound", "Num_tokens": 55, "Dif_num": 197},
      {"Cited_title": "Protease Inhibitors from Marine Actinobacteria as a Potential Source for Antimalarial Compound", "Num_tokens": 104, "Dif_num": 145},
      {"Cited_title": "Protease Inhibitors from Marine Actinobacteria as a Potential Source for Antimalarial Compound", "Num_tokens": 108, "Dif_num": 141},
      {"Cited_title": "Protease Inhibitors from Marine Actinobacteria as a Potential Source for Antimalarial Compound", "Num_tokens": 112, "Dif_num": 137},
      {"Cited_title": "Protease Inhibitors from Marine Actinobacteria as a Potential Source for Antimalarial Compound", "Num_tokens": 118, "Dif_num": 131},
      {"Cited_title": "Protease Inhibitors from Marine Actinobacteria as a Potential Source for Antimalarial Compound", "Num_tokens": 125, "Dif_num": 124},
      {"Cited_title": "Protease Inhibitors from Marine Actinobacteria as a Potential Source for Antimalarial Compound", "Num_tokens": 131, "Dif_num": 118},
      {"Cited_title": "Protease Inhibitors from Marine Actinobacteria as a Potential Source for Antimalarial Compound", "Num_tokens": 135, "Dif_num": 114},
      {"Cited_title": "Protease Inhibitors from Marine Actinobacteria as a Potential Source for Antimalarial Compound", "Num_tokens": 143, "Dif_num": 106},
      {"Cited_title": "Protease Inhibitors from Marine Actinobacteria as a Potential Source for Antimalarial Compound", "Num_tokens": 150, "Dif_num": 99},
      {"Cited_title": "Protease Inhibitors from Marine Actinobacteria as a Potential Source for Antimalarial Compound", "Num_tokens": 157, "Dif_num": 92},
      {"Cited_title": "Protease Inhibitors from Marine Actinobacteria as a Potential Source for Antimalarial Compound", "Num_tokens": 162, "Dif_num": 87},
      {"Cited_title": "Protease Inhibitors from Marine Actinobacteria as a Potential Source for Antimalarial Compound", "Num_tokens": 173, "Dif_num": 76},
      {"Cited_title": "Protease Inhibitors from Marine Actinobacteria as a Potential Source for Antimalarial Compound", "Num_tokens": 181, "Dif_num": 68},
      {"Cited_title": "Protease Inhibitors from Marine Actinobacteria as a Potential Source for Antimalarial Compound", "Num_tokens": 188, "Dif_num": 61},
      {"Cited_title": "Protease Inhibitors from Marine Actinobacteria as a Potential Source for Antimalarial Compound", "Num_tokens": 192, "Dif_num": 57},
      {"Cited_title": "Protease Inhibitors from Marine Actinobacteria as a Potential Source for Antimalarial Compound", "Num_tokens": 199, "Dif_num": 50},
      {"Cited_title": "Protease Inhibitors from Marine Actinobacteria as a Potential Source for Antimalarial Compound", "Num_tokens": 203, "Dif_num": 46},
      {"Cited_title": "Protease Inhibitors from Marine Actinobacteria as a Potential Source for Antimalarial Compound", "Num_tokens": 211, "Dif_num": 38},
      {"Cited_title": "Protease Inhibitors from Marine Actinobacteria as a Potential Source for Antimalarial Compound", "Num_tokens": 215, "Dif_num": 34},
      {"Cited_title": "Protease Inhibitors from Marine Actinobacteria as a Potential Source for Antimalarial Compound", "Num_tokens": 222, "Dif_num": 27},
      {"Cited_title": "Protease Inhibitors from Marine Actinobacteria as a Potential Source for Antimalarial Compound", "Num_tokens": 228, "Dif_num": 21},
      {"Cited_title": "Protease Inhibitors from Marine Actinobacteria as a Potential Source for Antimalarial Compound", "Num_tokens": 233, "Dif_num": 16},
      {"Cited_title": "Protease Inhibitors from Marine Actinobacteria as a Potential Source for Antimalarial Compound", "Num_tokens": 237, "Dif_num": 12},
      {"Cited_title": "Protease Inhibitors from Marine Actinobacteria as a Potential Source for Antimalarial Compound", "Num_tokens": 244, "Dif_num": 5},
      {"Cited_title": "Protease Inhibitors from Marine Actinobacteria as a Potential Source for Antimalarial Compound", "Num_tokens": 249, "Dif_num": 0},
      {"Cited_title": "Protease Inhibitors from Marine Actinobacteria as a Potential Source for Antimalarial Compound", "Num_tokens": 254, "Dif_num": 5},
      {"Cited_title": "Protease Inhibitors from Marine Actinobacteria as a Potential Source for Antimalarial Compound", "Num_tokens": 259, "Dif_num": 10},
      {"Cited_title": "Protease Inhibitors from Marine Actinobacteria as a Potential Source for Antimalarial Compound", "Num_tokens": 264, "Dif_num": 15},
      {"Cited_title": "Protease Inhibitors from Marine Actinobacteria as a Potential Source for Antimalarial Compound", "Num_tokens": 270, "Dif_num": 21},
      {"Cited_title": "Protease Inhibitors from Marine Actinobacteria as a Potential Source for Antimalarial Compound", "Num_tokens": 276, "Dif_num": 27},
      {"Cited_title": "Protease Inhibitors from Marine Actinobacteria as a Potential Source for Antimalarial Compound", "Num_tokens": 282, "Dif_num": 33},
      {"Cited_title": "Protease Inhibitors from Marine Actinobacteria as a Potential Source for Antimalarial Compound", "Num_tokens": 287, "Dif_num": 38},
      {"Cited_title": "Protease Inhibitors from Marine Actinobacteria as a Potential Source for Antimalarial Compound", "Num_tokens": 294, "Dif_num": 45},
      {"Cited_title": "Protease Inhibitors from Marine Actinobacteria as a Potential Source for Antimalarial Compound", "Num_tokens": 299, "Dif_num": 50},
      {"Cited_title": "Protease Inhibitors from Marine Actinobacteria as a Potential Source for Antimalarial Compound", "Num_tokens": 306, "Dif_num": 57},
      {"Cited_title": "Protease Inhibitors from Marine Actinobacteria as a Potential Source for Antimalarial Compound", "Num_tokens": 310, "Dif_num": 61},
      {"Cited_title": "Protease Inhibitors from Marine Actinobacteria as a Potential Source for Antimalarial Compound", "Num_tokens": 317, "Dif_num": 68},
      {"Cited_title": "Protease Inhibitors from Marine Actinobacteria as a Potential Source for Antimalarial Compound", "Num_tokens": 325, "Dif_num": 76},
      {"Cited_title": "Protease Inhibitors from Marine Actinobacteria as a Potential Source for Antimalarial Compound", "Num_tokens": 331, "Dif_num": 82},
      {"Cited_title": "Protease Inhibitors from Marine Actinobacteria as a Potential Source for Antimalarial Compound", "Num_tokens": 338, "Dif_num": 89},
      {"Cited_title": "Protease Inhibitors from Marine Actinobacteria as a Potential Source for Antimalarial Compound", "Num_tokens": 343, "Dif_num": 94},
      {"Cited_title": "Protease Inhibitors from Marine Actinobacteria as a Potential Source for Antimalarial Compound", "Num_tokens": 352, "Dif_num": 103},
      {"Cited_title": "Protease Inhibitors from Marine Actinobacteria as a Potential Source for Antimalarial Compound", "Num_tokens": 357, "Dif_num": 108},
      {"Cited_title": "Protease Inhibitors from Marine Actinobacteria as a Potential Source for Antimalarial Compound", "Num_tokens": 363, "Dif_num": 114},
      {"Cited_title": "Protease Inhibitors from Marine Actinobacteria as a Potential Source for Antimalarial Compound", "Num_tokens": 370, "Dif_num": 121},
      {"Cited_title": "Protease Inhibitors from Marine Actinobacteria as a Potential Source for Antimalarial Compound", "Num_tokens": 376, "Dif_num": 127},
      {"Cited_title": "Protease Inhibitors from Marine Actinobacteria as a Potential Source for Antimalarial Compound", "Num_tokens": 384, "Dif_num": 135},
      {"Cited_title": "Protease Inhibitors from Marine Actinobacteria as a Potential Source for Antimalarial Compound", "Num_tokens": 390, "Dif_num": 141},
      {"Cited_title": "Protease Inhibitors from Marine Actinobacteria as a Potential Source for Antimalarial Compound", "Num_tokens": 396, "Dif_num": 147},
      {"Cited_title": "Protease Inhibitors from Marine Actinobacteria as a Potential Source for Antimalarial Compound", "Num_tokens": 401, "Dif_num": 152},
      {"Cited_title": "Protease Inhibitors from Marine Actinobacteria as a Potential Source for Antimalarial Compound", "Num_tokens": 409, "Dif_num": 160},
      {"Cited_title": "Protease Inhibitors from Marine Actinobacteria as a Potential Source for Antimalarial Compound", "Num_tokens": 416, "Dif_num": 167},
      {"Cited_title": "Protease Inhibitors from Marine Actinobacteria as a Potential Source for Antimalarial Compound", "Num_tokens": 421, "Dif_num": 172},
      {"Cited_title": "Protease Inhibitors from Marine Actinobacteria as a Potential Source for Antimalarial Compound", "Num_tokens": 431, "Dif_num": 182},
      {"Cited_title": "Protease Inhibitors from Marine Actinobacteria as a Potential Source for Antimalarial Compound", "Num_tokens": 435, "Dif_num": 186},
      {"Cited_title": "Protease Inhibitors from Marine Actinobacteria as a Potential Source for Antimalarial Compound", "Num_tokens": 446, "Dif_num": 197},
      {"Cited_title": "Protease Inhibitors from Marine Actinobacteria as a Potential Source for Antimalarial Compound", "Num_tokens": 465, "Dif_num": 216},
      {"Cited_title": "Protease Inhibitors from Marine Actinobacteria as a Potential Source for Antimalarial Compound", "Num_tokens": 471, "Dif_num": 222},
      {"Cited_title": "Protease Inhibitors from Marine Actinobacteria as a Potential Source for Antimalarial Compound", "Num_tokens": 478, "Dif_num": 229},
      {"Cited_title": "Protease Inhibitors from Marine Actinobacteria as a Potential Source for Antimalarial Compound", "Num_tokens": 494, "Dif_num": 245},
      {"Cited_title": "Protease Inhibitors from Marine Actinobacteria as a Potential Source for Antimalarial Compound", "Num_tokens": 500, "Dif_num": 251},
      {"Cited_title": "Protease Inhibitors from Marine Actinobacteria as a Potential Source for Antimalarial Compound", "Num_tokens": 507, "Dif_num": 258},
      {"Cited_title": "Protease Inhibitors from Marine Actinobacteria as a Potential Source for Antimalarial Compound", "Num_tokens": 512, "Dif_num": 263},
      {"Cited_title": "Protease Inhibitors from Marine Actinobacteria as a Potential Source for Antimalarial Compound", "Num_tokens": 515, "Dif_num": 266},
      {"Cited_title": "tBERT: Topic Models and BERT Joining Forces for Semantic Similarity Detection", "Num_tokens": 74, "Dif_num": 34},
      {"Cited_title": "tBERT: Topic Models and BERT Joining Forces for Semantic Similarity Detection", "Num_tokens": 80, "Dif_num": 27},
      {"Cited_title": "tBERT: Topic Models and BERT Joining Forces for Semantic Similarity Detection", "Num_tokens": 86, "Dif_num": 21},
      {"Cited_title": "tBERT: Topic Models and BERT Joining Forces for Semantic Similarity Detection", "Num_tokens": 92, "Dif_num": 12},
      {"Cited_title": "tBERT: Topic Models and BERT Joining Forces for Semantic Similarity Detection", "Num_tokens": 98, "Dif_num": 5},
      {"Cited_title": "tBERT: Topic Models and BERT Joining Forces for Semantic Similarity Detection", "Num_tokens": 103, "Dif_num": 7},
      {"Cited_title": "tBERT: Topic Models and BERT Joining Forces for Semantic Similarity Detection", "Num_tokens": 108, "Dif_num": 11},
      {"Cited_title": "tBERT: Topic Models and BERT Joining Forces for Semantic Similarity Detection", "Num_tokens": 115, "Dif_num": 18},
      {"Cited_title": "tBERT: Topic Models and BERT Joining Forces for Semantic Similarity Detection", "Num_tokens": 121, "Dif_num": 24},
      {"Cited_title": "tBERT: Topic Models and BERT Joining Forces for Semantic Similarity Detection", "Num_tokens": 127, "Dif_num": 30},
      {"Cited_title": "tBERT: Topic Models and BERT Joining Forces for Semantic Similarity Detection", "Num_tokens": 133, "Dif_num": 36},
      {"Cited_title": "tBERT: Topic Models and BERT Joining Forces for Semantic Similarity Detection", "Num_tokens": 140, "Dif_num": 43},
      {"Cited_title": "tBERT: Topic Models and BERT Joining Forces for Semantic Similarity Detection", "Num_tokens": 146, "Dif_num": 49},
      {"Cited_title": "tBERT: Topic Models and BERT Joining Forces for Semantic Similarity Detection", "Num_tokens": 153, "Dif_num": 56},
      {"Cited_title": "tBERT: Topic Models and BERT Joining Forces for Semantic Similarity Detection", "Num_tokens": 160, "Dif_num": 63},
      {"Cited_title": "tBERT: Topic Models and BERT Joining Forces for Semantic Similarity Detection", "Num_tokens": 166, "Dif_num": 69},
      {"Cited_title": "tBERT: Topic Models and BERT Joining Forces for Semantic Similarity Detection", "Num_tokens": 173, "Dif_num": 76},
      {"Cited_title": "tBERT: Topic Models and BERT Joining Forces for Semantic Similarity Detection", "Num_tokens": 180, "Dif_num": 83},
      {"Cited_title": "tBERT: Topic Models and BERT Joining Forces for Semantic Similarity Detection", "Num_tokens": 186, "Dif_num": 89},
      {"Cited_title": "tBERT: Topic Models and BERT Joining Forces for Semantic Similarity Detection", "Num_tokens": 193, "Dif_num": 96},
      {"Cited_title": "tBERT: Topic Models and BERT Joining Forces for Semantic Similarity Detection", "Num_tokens": 199, "Dif_num": 102},
      {"Cited_title": "tBERT: Topic Models and BERT Joining Forces for Semantic Similarity Detection", "Num_tokens": 206, "Dif_num": 109},
      {"Cited_title": "tBERT: Topic Models and BERT Joining Forces for Semantic Similarity Detection", "Num_tokens": 213, "Dif_num": 116},
      {"Cited_title": "tBERT: Topic Models and BERT Joining Forces for Semantic Similarity Detection", "Num_tokens": 219, "Dif_num": 122},
      {"Cited_title": "tBERT: Topic Models and BERT Joining Forces for Semantic Similarity Detection", "Num_tokens": 227, "Dif_num": 130},
      {"Cited_title": "tBERT: Topic Models and BERT Joining Forces for Semantic Similarity Detection", "Num_tokens": 233, "Dif_num": 136},
      {"Cited_title": "tBERT: Topic Models and BERT Joining Forces for Semantic Similarity Detection", "Num_tokens": 241, "Dif_num": 144},
      {"Cited_title": "tBERT: Topic Models and BERT Joining Forces for Semantic Similarity Detection", "Num_tokens": 248, "Dif_num": 151},
      {"Cited_title": "tBERT: Topic Models and BERT Joining Forces for Semantic Similarity Detection", "Num_tokens": 256, "Dif_num": 159},
      {"Cited_title": "tBERT: Topic Models and BERT Joining Forces for Semantic Similarity Detection", "Num_tokens": 264, "Dif_num": 167},
      {"Cited_title": "tBERT: Topic Models and BERT Joining Forces for Semantic Similarity Detection", "Num_tokens": 271, "Dif_num": 174},
      {"Cited_title": "tBERT: Topic Models and BERT Joining Forces for Semantic Similarity Detection", "Num_tokens": 279, "Dif_num": 182},
      {"Cited_title": "tBERT: Topic Models and BERT Joining Forces for Semantic Similarity Detection", "Num_tokens": 284, "Dif_num": 187},
      {"Cited_title": "tBERT: Topic Models and BERT Joining Forces for Semantic Similarity Detection", "Num_tokens": 298, "Dif_num": 201},
      {"Cited_title": "tBERT: Topic Models and BERT Joining Forces for Semantic Similarity Detection", "Num_tokens": 304, "Dif_num": 207},
      {"Cited_title": "tBERT: Topic Models and BERT Joining Forces for Semantic Similarity Detection", "Num_tokens": 317, "Dif_num": 220},
      {"Cited_title": "tBERT: Topic Models and BERT Joining Forces for Semantic Similarity Detection", "Num_tokens": 322, "Dif_num": 225},
      {"Cited_title": "tBERT: Topic Models and BERT Joining Forces for Semantic Similarity Detection", "Num_tokens": 353, "Dif_num": 256},
      {"Cited_title": "tBERT: Topic Models and BERT Joining Forces for Semantic Similarity Detection", "Num_tokens": 388, "Dif_num": 291},
      {"Cited_title": "tBERT: Topic Models and BERT Joining Forces for Semantic Similarity Detection", "Num_tokens": 399, "Dif_num": 302}
    ]
  },
  "vconcat": [
    {
      "width": 320,
      "height": 283,
      "data": {"name": "top"},
      "layer": [
        {
          "mark": {"type": "point", "filled": true, "opacity": 0, "clip": true},
          "encoding": {
            "x": {"field": "Num_tokens", "type": "quantitative", "scale": {"domain": [-78, 628.5], "nice": false, "zero": false}, "axis": {"labels": false, "grid": true, "values": [0, 200, 400, 600], "title": null}},
            "y": {"field": "Abs_similarity", "type": "quantitative", "scale": {"domain": [0.0912, 0.3028], "nice": false, "zero": false}, "axis": {"orient": "left", "grid": false, "values": [0.1, 0.15, 0.2, 0.25, 0.3], "format": ".2f", "labelFontSize": 27, "labelPadding": 29, "title": "Abs_similarity", "titleFontSize": 31, "titleX": -104, "titleY": 161, "titleBaseline": "alphabetic", "titleAlign": "center", "titleAngle": -90}}
          }
        },
        {
          "mark": {"type": "point", "filled": true, "size": 150, "opacity": 1, "stroke": "white", "strokeWidth": 0.75, "clip": true},
          "encoding": {
            "x": {"field": "Num_tokens", "type": "quantitative"},
            "y": {"field": "Abs_similarity", "type": "quantitative", "scale": {"domain": [0.0614, 0.303], "nice": false, "zero": false}, "axis": {"orient": "left", "labels": false, "grid": true, "values": [0.1, 0.15, 0.2, 0.25, 0.3], "title": null}},
            "color": {
              "field": "Cited_title", "type": "nominal",
              "scale": {"domain": ["Animal Communication: When I’m Calling You, Will You Answer Too?", "Parents’ Expectations of High Schools in Firearm Violence Prevention", "Protease Inhibitors from Marine Actinobacteria as a Potential Source for Antimalarial Compound", "tBERT: Topic Models and BERT Joining Forces for Semantic Similarity Detection"], "range": ["#4C72B0", "#DD8452", "#55A868", "#C44E52"]},
              "legend": {"orient": "none", "legendX": 297, "legendY": 237, "title": "Cited_title", "titleFontSize": 20.5, "titleFontWeight": "normal", "titleAnchor": "middle", "titlePadding": 9, "labelFontSize": 20.5, "labelLimit": 2000, "labelOffset": 27, "symbolSize": 150, "symbolType": "circle", "symbolStrokeColor": "white", "symbolStrokeWidth": 0.75, "symbolOpacity": 1, "rowPadding": 8}
            }
          }
        }
      ],
      "resolve": {"scale": {"y": "independent"}}
    },
    {
      "width": 316,
      "height": 273,
      "data": {"name": "bottom"},
      "layer": [
        {
          "mark": {"type": "point", "filled": true, "opacity": 0, "clip": true},
          "encoding": {
            "x": {"field": "Num_tokens", "type": "quantitative", "scale": {"domain": [-76, 644], "nice": false, "zero": false}, "axis": {"grid": true, "values": [0, 200, 400, 600], "labelFontSize": 23, "labelPadding": 22, "title": "Num_tokens", "titleFontSize": 26, "titleY": 74, "titleBaseline": "alphabetic"}},
            "y": {"field": "Dif_num", "type": "quantitative", "scale": {"domain": [-16, 421.3], "nice": false, "zero": false}, "axis": {"orient": "left", "grid": false, "values": [0, 200, 400], "labelFontSize": 27, "labelPadding": 29, "title": "Dif_num", "titleFontSize": 31, "titleX": -99, "titleY": 118, "titleBaseline": "alphabetic", "titleAlign": "center", "titleAngle": -90}}
          }
        },
        {
          "mark": {"type": "point", "filled": true, "size": 150, "opacity": 1, "stroke": "white", "strokeWidth": 0.75, "clip": true},
          "encoding": {
            "x": {"field": "Num_tokens", "type": "quantitative"},
            "y": {"field": "Dif_num", "type": "quantitative", "scale": {"domain": [-18.9, 497.7], "nice": false, "zero": false}, "axis": {"orient": "left", "labels": false, "grid": true, "values": [0, 200, 400], "title": null}},
            "color": {
              "field": "Cited_title", "type": "nominal",
              "scale": {"domain": ["Animal Communication: When I’m Calling You, Will You Answer Too?", "Parents’ Expectations of High Schools in Firearm Violence Prevention", "Protease Inhibitors from Marine Actinobacteria as a Potential Source for Antimalarial Compound", "tBERT: Topic Models and BERT Joining Forces for Semantic Similarity Detection"], "range": ["#4C72B0", "#DD8452", "#55A868", "#C44E52"]},
              "legend": {"orient": "none", "legendX": 297, "legendY": 237, "title": "Cited_title", "titleFontSize": 20.5, "titleFontWeight": "normal", "titleAnchor": "middle", "titlePadding": 9, "labelFontSize": 20.5, "labelLimit": 2000, "labelOffset": 27, "symbolSize": 150, "symbolType": "circle", "symbolStrokeColor": "white", "symbolStrokeWidth": 0.75, "symbolOpacity": 1, "rowPadding": 8}
            }
          }
        }
      ],
      "resolve": {"scale": {"y": "independent"}}
    }
  ]
}
